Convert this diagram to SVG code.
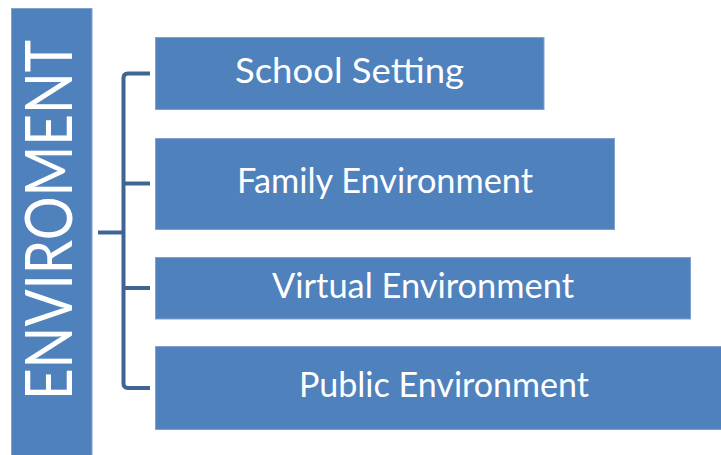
<svg xmlns="http://www.w3.org/2000/svg" width="721" height="455" viewBox="0 0 721 455">
  <style>
    .box { fill: #4F81BD; stroke: #7FA2D3; stroke-width: 1; }
    .bar { fill: #4F81BD; stroke: #7FA2D3; stroke-width: 1; }
    .label { fill: #FFFFFF; font-family: Lato, "Open Sans", "Liberation Sans", sans-serif; font-size: 34px; text-anchor: middle; }
    .title { fill: #FFFFFF; font-family: Lato, "Open Sans", "Liberation Sans", sans-serif; font-size: 66px; text-anchor: middle; }
    .wire { fill: none; stroke: #3E6594; stroke-width: 4; }
  </style>
  <rect width="721" height="455" fill="#FFFFFF"/>

  <!-- vertical heading bar -->
  <g id="enviroment">
    <rect class="bar" x="11.5" y="8.5" width="80.5" height="452"/>
    <text class="title" transform="translate(72,220) rotate(-90)" x="0" y="0" textLength="360" lengthAdjust="spacingAndGlyphs">ENVIROMENT</text>
  </g>

  <!-- bracket joining the heading to the four settings -->
  <g id="connectors">
    <path class="wire" d="M150,73.5 H128 Q123.5,73.5 123.5,78 V383.5 Q123.5,388 128,388 H150"/>
    <path class="wire" d="M123.5,183.5 H150"/>
    <path class="wire" d="M123.5,288 H150"/>
    <path class="wire" d="M98,232.5 H123.5"/>
  </g>

  <g id="school-setting">
    <rect class="box" x="155.5" y="37.5" width="388.5" height="72"/>
    <text class="label" x="349.5" y="83" textLength="229" lengthAdjust="spacingAndGlyphs">School Setting</text>
  </g>

  <g id="family-environment">
    <rect class="box" x="155.5" y="138.5" width="459" height="91"/>
    <text class="label" x="385" y="193" textLength="296" lengthAdjust="spacingAndGlyphs">Family Environment</text>
  </g>

  <g id="virtual-environment">
    <rect class="box" x="155.5" y="257.5" width="535" height="61.5"/>
    <text class="label" x="423" y="298" textLength="302" lengthAdjust="spacingAndGlyphs">Virtual Environment</text>
  </g>

  <g id="public-environment">
    <rect class="box" x="155.5" y="346.5" width="580" height="83"/>
    <text class="label" x="444" y="397" textLength="290" lengthAdjust="spacingAndGlyphs">Public Environment</text>
  </g>
</svg>
